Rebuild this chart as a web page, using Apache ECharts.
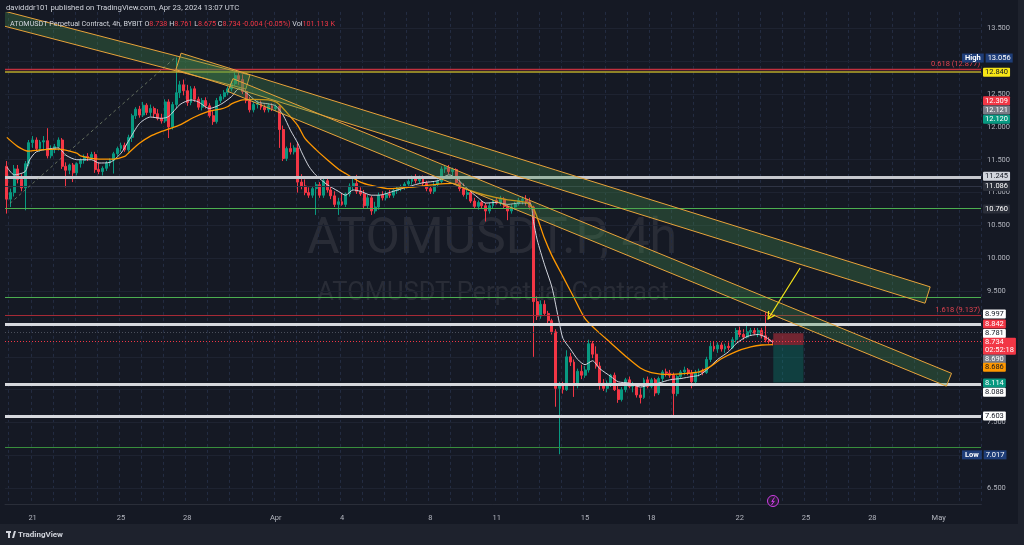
<!DOCTYPE html>
<html><head><meta charset="utf-8">
<script src="https://cdn.jsdelivr.net/npm/echarts@6/dist/echarts.min.js"></script>
<style>html,body{margin:0;padding:0;background:#1e222d;}#c{width:1024px;height:545px;}</style>
</head><body><div id="c"></div><script>
// ---------------- data ----------------
// 4h slots starting 2024-03-19 20:00 UTC
const slotStart = Date.UTC(2024, 2, 19, 20);
const slotCount = 265;
const categories = [];
for (let k = 0; k < slotCount; k++) {
  const d = new Date(slotStart + k * 4 * 3600e3);
  const p = n => String(n).padStart(2, '0');
  categories.push(d.getUTCFullYear() + '-' + p(d.getUTCMonth() + 1) + '-' + p(d.getUTCDate()) + ' ' + p(d.getUTCHours()) + ':00');
}
const dateTickKeys = ['2024-03-21','2024-03-25','2024-03-28','2024-04-01','2024-04-04','2024-04-08','2024-04-11','2024-04-15','2024-04-18','2024-04-22','2024-04-25','2024-04-28','2024-05-01'];
const dateTickLabels = ['21','25','28','Apr','4','8','11','15','18','22','25','28','May'];

// [open, high, low, close]
const ohlc = [
[11.40,11.48,10.68,10.90],[10.90,11.06,10.78,11.00],[11.00,11.42,10.94,11.36],[11.36,11.42,11.14,11.20],[11.20,11.28,11.02,11.07],[11.07,11.48,10.73,11.44],[11.44,11.80,11.40,11.76],
[11.76,11.86,11.68,11.80],[11.80,11.84,11.63,11.67],[11.67,11.80,11.62,11.77],[11.77,11.86,11.64,11.79],[11.79,11.98,11.52,11.56],[11.56,11.72,11.52,11.66],
[11.66,11.74,11.60,11.70],[11.70,11.84,11.64,11.80],[11.80,11.83,11.36,11.40],[11.40,11.46,11.08,11.34],[11.34,11.44,11.28,11.42],[11.42,11.45,11.16,11.30],
[11.30,11.46,11.26,11.44],[11.44,11.52,11.38,11.49],[11.49,11.58,11.44,11.55],[11.55,11.60,11.48,11.53],[11.53,11.62,11.50,11.58],[11.58,11.62,11.30,11.35],
[11.35,11.46,11.28,11.32],[11.32,11.40,11.26,11.37],[11.37,11.48,11.33,11.45],[11.45,11.52,11.40,11.49],[11.49,11.62,11.29,11.59],[11.59,11.70,11.55,11.67],
[11.67,11.76,11.62,11.72],[11.72,11.76,11.62,11.65],[11.65,11.88,11.62,11.84],[11.84,12.20,11.77,12.17],[12.17,12.30,12.12,12.27],[12.27,12.32,12.14,12.18],
[12.18,12.38,12.15,12.33],[12.33,12.36,12.18,12.22],[12.22,12.34,12.16,12.28],[12.28,12.31,12.14,12.20],[12.20,12.27,12.10,12.13],[12.13,12.20,12.05,12.09],
[12.09,12.42,12.06,12.38],[12.38,12.42,11.83,12.00],[12.00,12.38,11.96,12.34],[12.34,13.056,12.28,12.52],[12.52,12.70,12.44,12.64],[12.64,12.72,12.48,12.55],
[12.55,12.64,12.32,12.37],[12.37,12.62,12.33,12.58],[12.58,12.62,12.38,12.42],[12.42,12.46,12.26,12.30],[12.30,12.44,12.25,12.40],[12.40,12.45,12.28,12.32],
[12.32,12.36,12.14,12.17],[12.17,12.24,12.03,12.08],[12.08,12.44,12.05,12.40],[12.40,12.50,12.36,12.46],[12.46,12.56,12.42,12.52],[12.52,12.62,12.48,12.58],
[12.58,12.70,12.54,12.66],[12.66,12.84,12.62,12.78],[12.78,12.84,12.64,12.72],[12.72,12.80,12.50,12.54],[12.54,12.58,12.36,12.40],[12.40,12.46,12.22,12.26],
[12.26,12.38,12.22,12.34],[12.34,12.40,12.28,12.36],[12.36,12.40,12.26,12.30],[12.30,12.34,12.22,12.26],[12.26,12.36,12.22,12.32],[12.32,12.36,12.24,12.28],
[12.28,12.34,12.24,12.31],[12.31,12.33,11.68,11.96],[11.96,12.02,11.48,11.52],[11.52,11.70,11.48,11.67],[11.67,11.76,11.58,11.62],[11.62,11.72,11.58,11.68],
[11.68,11.76,11.00,11.16],[11.16,11.28,11.05,11.10],[11.10,11.20,10.96,11.00],[11.00,11.08,10.92,10.96],[10.96,11.10,10.92,11.06],[11.06,11.16,10.66,11.12],
[11.12,11.16,10.92,10.96],[10.96,11.22,10.92,11.18],[11.18,11.22,11.00,11.04],[11.04,11.10,10.90,10.95],[10.95,11.02,10.78,10.82],[10.82,10.92,10.66,10.86],
[10.86,10.99,10.80,10.82],[10.82,11.00,10.78,10.98],[10.98,11.14,10.94,11.10],[11.10,11.24,11.04,11.14],[11.14,11.27,10.98,11.02],[11.02,11.08,10.95,10.98],
[10.98,11.04,10.76,10.80],[10.80,10.96,10.76,10.92],[10.92,10.95,10.66,10.72],[10.72,10.86,10.68,10.78],[10.78,11.00,10.74,10.96],[10.96,11.02,10.88,10.92],
[10.92,11.02,10.88,10.98],[10.98,11.04,10.92,10.96],[10.96,11.06,10.92,11.03],[11.03,11.10,10.98,11.07],[11.07,11.12,11.02,11.09],[11.09,11.16,11.04,11.13],
[11.13,11.20,11.08,11.17],[11.17,11.26,11.12,11.23],[11.23,11.28,11.14,11.18],[11.18,11.26,11.14,11.23],[11.23,11.26,11.10,11.14],[11.14,11.18,11.02,11.06],
[11.06,11.10,10.98,11.02],[11.02,11.16,10.98,11.12],[11.12,11.20,11.08,11.17],[11.17,11.40,11.14,11.36],[11.36,11.42,11.30,11.38],[11.38,11.42,11.28,11.32],
[11.32,11.38,11.26,11.35],[11.35,11.37,11.12,11.15],[11.15,11.20,11.02,11.06],[11.06,11.14,10.94,10.97],[10.97,11.04,10.90,11.00],[11.00,11.03,10.84,10.87],
[10.87,10.92,10.76,10.79],[10.79,10.88,10.74,10.85],[10.85,10.88,10.76,10.80],[10.80,10.84,10.56,10.72],[10.72,10.84,10.68,10.80],[10.80,10.90,10.76,10.88],
[10.88,10.92,10.82,10.84],[10.84,10.95,10.80,10.90],[10.90,10.93,10.76,10.79],[10.79,10.82,10.58,10.72],[10.72,10.82,10.68,10.78],[10.78,10.86,10.74,10.83],
[10.83,10.92,10.80,10.88],[10.88,10.94,10.82,10.90],[10.90,10.96,10.80,10.86],[10.86,10.92,10.74,10.78],[10.78,10.80,8.50,9.34],[9.34,9.42,9.06,9.12],
[9.12,9.36,9.08,9.30],[9.30,9.36,9.12,9.16],[9.16,9.20,9.00,9.05],[9.05,9.08,8.84,8.88],[8.88,8.92,7.74,8.02],[8.02,8.12,7.017,8.07],
[8.07,8.12,7.94,8.00],[8.00,8.60,7.98,8.50],[8.50,8.56,8.36,8.42],[8.42,8.46,7.89,8.06],[8.06,8.32,8.02,8.28],[8.28,8.38,8.16,8.22],
[8.22,8.36,8.18,8.30],[8.30,8.76,8.26,8.70],[8.70,8.74,8.48,8.54],[8.54,8.66,8.32,8.36],[8.36,8.42,8.00,8.10],[8.10,8.16,7.98,8.02],
[8.02,8.14,7.96,8.10],[8.10,8.24,8.04,8.22],[8.22,8.26,7.98,8.00],[8.00,8.08,7.80,7.85],[7.85,8.04,7.82,8.00],[8.00,8.18,7.96,8.15],
[8.15,8.20,8.02,8.05],[8.05,8.12,7.96,8.08],[8.08,8.10,7.88,7.92],[7.92,8.02,7.79,7.88],[7.88,8.18,7.86,8.15],[8.15,8.20,8.02,8.05],
[8.05,8.18,8.02,8.15],[8.15,8.18,7.90,7.95],[7.95,8.20,7.92,8.17],[8.17,8.30,8.12,8.27],[8.27,8.32,8.20,8.25],[8.25,8.30,8.18,8.22],
[8.22,8.26,7.61,7.94],[7.94,8.22,7.90,8.20],[8.20,8.30,8.16,8.27],[8.27,8.35,8.22,8.30],[8.30,8.33,8.22,8.25],[8.25,8.30,8.02,8.12],
[8.12,8.30,8.08,8.26],[8.26,8.32,8.20,8.28],[8.28,8.32,8.22,8.26],[8.26,8.50,8.24,8.46],[8.46,8.72,8.42,8.66],[8.66,8.74,8.58,8.62],
[8.62,8.72,8.56,8.68],[8.68,8.72,8.58,8.62],[8.62,8.70,8.56,8.66],[8.66,8.72,8.60,8.64],[8.64,8.80,8.62,8.76],[8.76,8.94,8.72,8.90],
[8.90,8.96,8.80,8.84],[8.84,8.92,8.76,8.80],[8.80,9.02,8.78,8.88],[8.88,8.94,8.82,8.90],[8.90,8.94,8.84,8.86],[8.86,8.94,8.80,8.90],
[8.90,8.94,8.78,8.82],[8.82,9.18,8.72,8.76],[8.76,8.80,8.70,8.738],[8.738,8.761,8.675,8.734]
];

// moving averages: [bar index, price]
const emaFast = [[0,11.39],[2,11.27],[5,11.32],[6,11.48],[8,11.62],[12,11.67],[14,11.68],[16,11.57],[19,11.50],[23,11.50],[25,11.45],[28,11.46],[31,11.60],[33,11.78],[36,12.05],[39,12.15],[42,12.13],[44,12.16],[47,12.34],[50,12.41],[52,12.38],[55,12.28],[58,12.34],[61,12.46],[63,12.58],[65,12.52],[68,12.38],[71,12.35],[73,12.32],[75,12.18],[77,11.95],[79,11.75],[80,11.62],[82,11.40],[84,11.26],[87,11.12],[90,11.02],[92,10.96],[94,11.04],[96,11.02],[99,10.96],[101,10.96],[105,11.02],[109,11.09],[113,11.15],[117,11.18],[120,11.27],[122,11.22],[125,11.06],[128,10.92],[130,10.84],[133,10.85],[136,10.82],[139,10.84],[142,10.84],[143,10.56],[144,10.28],[146,9.90],[148,9.56],[150,9.02],[151,8.78],[153,8.62],[155,8.46],[157,8.38],[159,8.44],[161,8.32],[164,8.20],[166,8.12],[169,8.10],[172,8.04],[175,8.08],[177,8.10],[180,8.15],[183,8.17],[186,8.20],[188,8.22],[190,8.30],[193,8.46],[196,8.58],[198,8.70],[201,8.81],[204,8.84],[206,8.80],[208,8.72]];
const emaSlow = [[0,11.84],[3,11.70],[6,11.63],[9,11.65],[14,11.66],[19,11.60],[20,11.56],[25,11.51],[29,11.51],[32,11.55],[33,11.60],[36,11.75],[39,11.86],[42,11.93],[44,11.97],[47,12.03],[51,12.15],[54,12.22],[56,12.25],[58,12.27],[60,12.31],[61,12.35],[64,12.41],[67,12.42],[71,12.41],[73,12.38],[74,12.34],[76,12.22],[79,12.02],[81,11.82],[84,11.65],[87,11.50],[90,11.36],[92,11.29],[96,11.16],[99,11.11],[104,11.06],[109,11.08],[113,11.10],[117,11.13],[121,11.14],[125,11.05],[130,10.96],[136,10.89],[141,10.85],[143,10.76],[146,10.30],[148,10.04],[151,9.72],[154,9.40],[157,9.08],[160,8.91],[164,8.71],[168,8.51],[172,8.33],[175,8.26],[180,8.23],[185,8.25],[188,8.27],[191,8.35],[194,8.47],[198,8.58],[202,8.65],[205,8.68],[208,8.686]];

// price axis
const gridPrices = [6.5,7,7.5,8,8.5,9,9.5,10,10.5,11,11.5,12,12.5,13,13.5];
const yLabelsShown = [13.5,12.5,12,11.5,11,10.5,10,9.5,7.5,6.5];

// horizontal drawn levels
const levelValues = [12.877, 12.840, 11.245, 11.086, 10.760, 9.400, 9.137, 8.997, 8.880, 8.734, 8.088, 7.603, 7.120];
const fibTexts = ['0.618 (12.877)', '1.618 (9.137)'];

// right-axis price tags
const tagValues = [13.056, 12.840, 12.309, 12.121, 12.120, 11.245, 11.086, 10.760, 8.997, 8.842, 8.781, 8.734, 8.690, 8.686, 8.114, 8.088, 7.603, 7.017];
const countdown = '02:52:18';

// drawings: parallelograms [bar,price] x4
const channels = [
  [-5.1, 13.826, 66.0, 12.789, 64.9, 12.576, -6.2, 13.614],
  [47.3, 13.122, 250.7, 9.565, 249.3, 9.316, 45.9, 12.871],
  [61.4, 12.734, 256.5, 8.249, 255.1, 8.054, 60.0, 12.540]
];
const trendDashed = [0.86, 10.836, 46.2, 13.078];
const arrowLine = [215.4, 9.852, 206.7, 9.075];
const shortFromBar = 208.1, shortToBar = 216.3;
const shortStop = 8.86, shortEntry = 8.68, shortTarget = 8.11;

// ---------------- chart ----------------
const FONT = 'Roboto, "Noto Sans", sans-serif';
const tickMap = {};
dateTickKeys.forEach((k, j) => tickMap[k + ' 00:00'] = dateTickLabels[j]);

const levelStyles = [
  {color:'#c2313e', width:1.3},
  {color:'#b8a82a', width:1.6},
  {color:'#c6c8ce', width:2.8},
  {color:'#2f3444', width:1},
  {color:'#4caf50', width:1},
  {color:'#4caf50', width:1.1},
  {color:'#a52a36', width:1},
  {color:'#d6d8dd', width:2.8},
  {color:'#4a4e5a', width:1, type:[1,2]},
  {color:'#f23645', width:1, type:[1,2]},
  {color:'#d6d8dd', width:2.8},
  {color:'#d6d8dd', width:2.8},
  {color:'#388e3c', width:1}
];
const fibAt = {0: fibTexts[0], 6: fibTexts[1]};

const tagStyles = [
  {bg:'#1e3d78', fg:'#ffffff', dy:0.8, pre:'High'},
  {bg:'#f7e616', fg:'#131722', dy:0.6},
  {bg:'#f23645', fg:'#ffffff', dy:-5.8},
  {bg:'#787b86', fg:'#ffffff', dy:-8.9},
  {bg:'#089981', fg:'#ffffff', dy:0.3},
  {bg:'#d1d4dc', fg:'#131722', dy:-0.5},
  {bg:'#2a2e39', fg:'#ffffff', dy:-0.2},
  {bg:'#2a2e39', fg:'#ffffff', dy:0.7},
  {bg:'#ffffff', fg:'#131722', dy:-10.1},
  {bg:'#f23645', fg:'#ffffff', dy:-10.6},
  {bg:'#ffffff', fg:'#131722', dy:-5.0},
  {bg:'#f23645', fg:'#ffffff', dy:4.5, extra:true},
  {bg:'#787b86', fg:'#ffffff', dy:15.0},
  {bg:'#ff9800', fg:'#131722', dy:22.9},
  {bg:'#089981', fg:'#ffffff', dy:0.5},
  {bg:'#ffffff', fg:'#131722', dy:8.4},
  {bg:'#ffffff', fg:'#131722', dy:0},
  {bg:'#1e3d78', fg:'#ffffff', dy:0.8, pre:'Low'}
];

const candleData = ohlc.map(r => [r[0], r[3], r[2], r[1]]);

const levelMarks = levelValues.map((v, k) => {
  const s = levelStyles[k];
  const item = {yAxis: v, lineStyle: {color: s.color, width: s.width, type: s.type || 'solid'}, label: {show: false}};
  if (fibAt[k]) {
    item.label = {show: true, position: 'insideEndTop', formatter: fibAt[k], color: '#e0424f', fontSize: 7.5, fontFamily: FONT, distance: 1};
  }
  return item;
});

const tagMarks = tagValues.map((v, k) => {
  const s = tagStyles[k];
  const txt = v.toFixed(3);
  const label = {
    show: true, position: 'end', distance: 2, offset: [0, s.dy], opacity: 1,
    fontSize: 7.5, fontFamily: FONT, lineHeight: 8, color: s.fg,
    backgroundColor: s.bg, padding: [0.5, 2, 0.5, 2], borderRadius: 1,
    formatter: s.extra ? (txt + '\n' + countdown) : txt
  };
  if (s.pre) {
    label.backgroundColor = 'transparent';
    label.padding = 0;
    label.offset = [-21, s.dy];
    label.formatter = '{p|' + s.pre + '} {v|' + txt + '}';
    label.rich = {
      p: {backgroundColor: s.bg, color: '#ffffff', padding: [0.5, 3, 0.5, 3], fontSize: 7.5, fontWeight: 'bold', lineHeight: 8, fontFamily: FONT},
      v: {backgroundColor: s.bg, color: '#ffffff', padding: [0.5, 2, 0.5, 2], fontSize: 7.5, lineHeight: 8, fontFamily: FONT}
    };
  }
  return {yAxis: v, lineStyle: {color: 'rgba(0,0,0,0)', width: 1}, label};
});

const option = {
  animation: false,
  backgroundColor: '#151924',
  textStyle: {fontFamily: FONT},
  grid: {left: 5, top: 11.9, width: 976, height: 492.75, containLabel: false},
  xAxis: [
    {
      type: 'category', data: categories, boundaryGap: true,
      axisLine: {show: true, lineStyle: {color: '#2a2e39'}},
      axisTick: {show: false},
      axisLabel: {
        color: '#b2b5be', fontSize: 7.5, margin: 9, fontFamily: FONT,
        interval: (idx, val) => tickMap[val] !== undefined,
        formatter: val => tickMap[val] || ''
      },
      splitLine: {show: true, interval: (idx, val) => val.endsWith(' 00:00'), lineStyle: {color: '#232c42', type: [3, 3], width: 1}}
    },
    {type: 'value', min: -0.5, max: slotCount - 0.5, show: false}
  ],
  yAxis: {
    type: 'value', position: 'right', min: 6.25, max: 13.75, interval: 0.25,
    splitLine: {show: false}, axisLine: {show: false}, axisTick: {show: false},
    axisLabel: {
      color: '#b2b5be', fontSize: 7.5, margin: 6, fontFamily: FONT,
      formatter: v => yLabelsShown.indexOf(Math.round(v * 100) / 100) >= 0 ? v.toFixed(3) : ''
    }
  },
  graphic: [
    {type: 'text', x: 492, y: 240, z: -1, silent: true, style: {text: 'ATOMUSDT.P, 4h', fill: 'rgba(255,255,255,0.085)', font: '50px Roboto', align: 'center', verticalAlign: 'middle'}},
    {type: 'text', x: 493, y: 294, z: -1, silent: true, style: {text: 'ATOMUSDT Perpetual Contract', fill: 'rgba(255,255,255,0.085)', font: '25.5px Roboto', align: 'center', verticalAlign: 'middle'}},
    {type: 'rect', z: 100, shape: {x: 0, y: 524, width: 1024, height: 21}, style: {fill: '#1e222d'}},
    {type: 'rect', z: 100, shape: {x: 1018, y: 0, width: 6, height: 545}, style: {fill: '#1e222d'}},
    {type: 'text', z: 100, x: 6, y: 8, style: {text: 'davidddr101 published on TradingView.com, Apr 23, 2024 13:07 UTC', fill: '#d1d4dc', font: '7.7px Roboto', verticalAlign: 'middle'}},
    {type: 'text', z: 100, x: 10, y: 24, style: {
      text: '{t|ATOMUSDT Perpetual Contract, 4h, BYBIT} {l|O}{r|8.738} {l|H}{r|8.761} {l|L}{r|8.675} {l|C}{r|8.734} {r|-0.004 (-0.05%)} {l|Vol}{r|101.113 K}',
      font: '7.2px Roboto', verticalAlign: 'middle',
      rich: {t: {fill: '#d1d4dc', font: '7.2px Roboto'}, l: {fill: '#d1d4dc', font: '7.2px Roboto'}, r: {fill: '#f23645', font: '7.2px Roboto'}}
    }},
    {type: 'rect', z: 101, shape: {x: 6, y: 531, width: 5, height: 2}, style: {fill: '#d1d4dc'}},
    {type: 'rect', z: 101, shape: {x: 8, y: 531, width: 2, height: 7}, style: {fill: '#d1d4dc'}},
    {type: 'polygon', z: 101, shape: {points: [[12, 538], [14, 531], [16, 531], [14, 538]]}, style: {fill: '#d1d4dc'}},
    {type: 'text', z: 101, x: 18, y: 535, style: {text: 'TradingView', fill: '#d1d4dc', font: 'bold 8px Roboto', verticalAlign: 'middle'}},
    {type: 'circle', z: 50, shape: {cx: 773, cy: 501, r: 5.5}, style: {fill: '#2a1b35', stroke: '#d03ee8', lineWidth: 1}},
    {type: 'polyline', z: 51, shape: {points: [[774.5, 497.5], [771.8, 501.5], [774.2, 501.2], [771.5, 505]]}, style: {stroke: '#d03ee8', lineWidth: 1, fill: null}}
  ],
  series: [
    {
      name: 'grid', type: 'line', data: [], silent: true, z: 1,
      markLine: {silent: true, symbol: 'none', z: 1, animation: false, label: {show: false},
        lineStyle: {color: '#1e2331', width: 1, type: 'solid'},
        data: gridPrices.map(v => ({yAxis: v}))}
    },
    {
      name: 'ATOMUSDT.P', type: 'candlestick', data: candleData, z: 3, barWidth: '66%',
      itemStyle: {color: '#089981', color0: '#f23645', borderColor: '#089981', borderColor0: '#f23645', borderWidth: 1}
    },
    {
      name: 'ema fast', type: 'line', xAxisIndex: 1, data: emaFast, showSymbol: false, smooth: 0.25, z: 4,
      lineStyle: {color: '#d1d4dc', width: 1}
    },
    {
      name: 'ema slow', type: 'line', xAxisIndex: 1, data: emaSlow, showSymbol: false, smooth: 0.25, z: 4,
      lineStyle: {color: '#ff9800', width: 1.3}
    },
    {
      name: 'levels', type: 'line', data: [], silent: true, z: 5,
      markLine: {silent: true, symbol: 'none', z: 5, animation: false, data: levelMarks}
    },
    {
      name: 'channels', type: 'custom', xAxisIndex: 1, yAxisIndex: 0, z: 6, silent: true, clip: true,
      data: channels,
      renderItem: (params, api) => {
        const pts = [];
        for (let k = 0; k < 4; k++) pts.push(api.coord([api.value(2 * k), api.value(2 * k + 1)]));
        return {type: 'polygon', shape: {points: pts}, style: {fill: 'rgba(72,150,78,0.30)', stroke: '#e8a33a', lineWidth: 1}};
      }
    },
    {
      name: 'trend', type: 'custom', xAxisIndex: 1, yAxisIndex: 0, z: 6, silent: true, clip: true,
      data: [trendDashed],
      renderItem: (params, api) => {
        const a = api.coord([api.value(0), api.value(1)]);
        const b = api.coord([api.value(2), api.value(3)]);
        return {type: 'line', shape: {x1: a[0], y1: a[1], x2: b[0], y2: b[1]}, style: {stroke: 'rgba(150,165,130,0.6)', lineWidth: 1, lineDash: [3, 3]}};
      }
    },
    {
      name: 'arrow', type: 'custom', xAxisIndex: 1, yAxisIndex: 0, z: 7, silent: true, clip: true,
      data: [arrowLine],
      renderItem: (params, api) => {
        const a = api.coord([api.value(0), api.value(1)]);
        const b = api.coord([api.value(2), api.value(3)]);
        const ang = Math.atan2(b[1] - a[1], b[0] - a[0]);
        const L = 8, w = 0.5;
        const h1 = [b[0] - L * Math.cos(ang - w), b[1] - L * Math.sin(ang - w)];
        const h2 = [b[0] - L * Math.cos(ang + w), b[1] - L * Math.sin(ang + w)];
        return {type: 'group', children: [
          {type: 'line', shape: {x1: a[0], y1: a[1], x2: b[0], y2: b[1]}, style: {stroke: '#f7e616', lineWidth: 1.2}},
          {type: 'polyline', shape: {points: [h1, b, h2]}, style: {stroke: '#f7e616', lineWidth: 1.2, fill: null}}
        ]};
      }
    },
    {
      name: 'short position', type: 'custom', xAxisIndex: 1, yAxisIndex: 0, z: 6, silent: true, clip: true,
      data: [[shortFromBar, shortToBar, shortEntry, shortStop, 0], [shortFromBar, shortToBar, shortTarget, shortEntry, 1]],
      renderItem: (params, api) => {
        const a = api.coord([api.value(0), api.value(3)]);
        const b = api.coord([api.value(1), api.value(2)]);
        const red = api.value(4) === 0;
        return {type: 'rect', shape: {x: a[0], y: a[1], width: b[0] - a[0], height: b[1] - a[1]},
          style: {fill: red ? 'rgba(242,54,69,0.42)' : 'rgba(8,153,129,0.30)'}};
      }
    },
    {
      name: 'tags', type: 'line', data: [], silent: true, z: 20,
      markLine: {silent: true, symbol: 'none', z: 20, animation: false, data: tagMarks}
    }
  ]
};
const chart = echarts.init(document.getElementById('c'));
chart.setOption(option);
</script></body></html>
